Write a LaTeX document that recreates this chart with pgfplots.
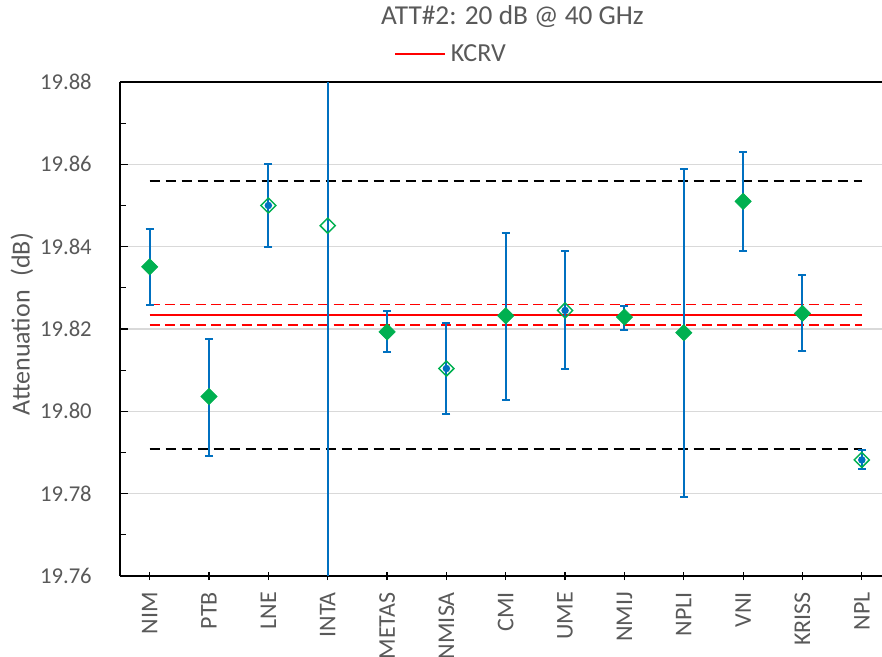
\documentclass[border=0pt]{standalone}
\usepackage{fontspec}
\setmainfont{Carlito}
\usepackage{pgfplots}
\pgfplotsset{compat=1.18}
\usepackage{pgfplotstable}
\definecolor{ebblue}{HTML}{0070C0}
\definecolor{mkgreen}{HTML}{00B050}
\definecolor{txtgray}{HTML}{595959}
\definecolor{gridgray}{HTML}{D9D9D9}
\definecolor{kred}{HTML}{FF0000}

% filled markers
\pgfplotstableread{
x y ep em
0 19.8351 0.0092 0.0092
1 19.8036 0.0140 0.0144
6 19.8232 0.0200 0.0204
8 19.8229 0.0028 0.0031
4 19.8193 0.0051 0.0050
9 19.8191 0.0398 0.0399
10 19.8510 0.0119 0.0120
11 19.8238 0.0092 0.0092
}\filledtab

% open markers
\pgfplotstableread{
x y ep em
2 19.8500 0.0100 0.0101
5 19.8104 0.0110 0.0110
7 19.8245 0.0144 0.0141
12 19.7882 0.0025 0.0022
}\opentab

\pgfplotstableread{
x y
3 19.8451
}\intatab

\begin{document}
\begin{tikzpicture}
\path[use as bounding box] (-90pt,-60.75pt) rectangle (571.5pt,432pt);
\begin{axis}[
  scale only axis, width=571.5pt, height=370.5pt,
  xmin=-0.5, xmax=12.34, ymin=19.76, ymax=19.88,
  axis y line*=left,
  xtick pos=bottom, ytick pos=left,
  axis line style={black, line width=1pt},
  xtick={0,...,12},
  xticklabels={NIM,PTB,LNE,INTA,METAS,NMISA,CMI,UME,NMIJ,NPLI,VNI,KRISS,NPL},
  ytick={19.76,19.78,19.80,19.82,19.84,19.86,19.88},
  minor y tick num=1,
  tick align=inside,
  major tick length=6pt, minor tick length=4.5pt,
  tick style={black, line width=0.9pt},
  xtick style={yshift=-3pt},
  ymajorgrids, grid style={gridgray, line width=0.8pt},
  /pgf/number format/.cd, fixed, fixed zerofill, precision=2, assume math mode=true,
  /pgfplots/.cd,
  xticklabel style={rotate=90, anchor=east, inner sep=0pt, font=\fontsize{18}{20}\selectfont, text=txtgray},
  xticklabel shift=12pt,
  yticklabel style={anchor=east, inner sep=0pt, font=\fontsize{17}{19}\selectfont, text=txtgray},
  yticklabel shift=21pt,
  ylabel={Attenuation\hspace{0.3em} (dB)},
  ylabel style={at={(axis description cs:-0.1286,0.51)}, anchor=center, rotate=0, font=\fontsize{19.5}{21}\selectfont, text=txtgray},
  title={ATT\#2: 20 dB @ 40 GHz},
  title style={at={(axis description cs:0.515,1.1006)}, anchor=base, yshift=0pt, font=\fontsize{20.5}{22}\selectfont, text=txtgray},
  legend style={at={(axis description cs:0.3595,1.0567)}, anchor=west, draw=none, fill=none, inner sep=0pt, font=\fontsize{19.5}{21}\selectfont, text=txtgray, nodes={inner sep=2pt}},
  legend image code/.code={\draw[#1] (0pt,0pt) -- (37.5pt,0pt);},
  legend style={/tikz/every even column/.append style={column sep=0pt}, nodes={inner xsep=3.5pt}},
]
% black dashed limits
\addplot[black, line width=1.1pt, dash pattern=on 7.5pt off 4.5pt, forget plot] coordinates {(0,19.8560) (12,19.8560)};
\addplot[black, line width=1.1pt, dash pattern=on 7.5pt off 4.5pt, forget plot] coordinates {(0,19.7908) (12,19.7908)};
% KCRV and its uncertainty
\addplot[kred, line width=1.5pt] coordinates {(0,19.8235) (12,19.8235)};
\addlegendentry{KCRV}
\addplot[kred, line width=1.1pt, dash pattern=on 7.5pt off 4pt, forget plot] coordinates {(0,19.8259) (12,19.8259)};
\addplot[kred, line width=1.1pt, dash pattern=on 7.5pt off 4pt, forget plot] coordinates {(0,19.8210) (12,19.8210)};
% INTA error bar (beyond the axis)
\addplot[ebblue, line width=1.5pt, forget plot] coordinates {(3,19.76) (3,19.88)};
% error bars
\addplot[ebblue, line width=1.5pt, only marks, mark=none, forget plot,
  error bars/.cd, y dir=both, y explicit,
  error bar style={ebblue, line width=1.5pt},
  error mark options={ebblue, rotate=90, mark size=3pt, line width=1.5pt}]
  table[x=x, y=y, y error plus=ep, y error minus=em] {\filledtab};
\addplot[ebblue, line width=1.5pt, only marks, mark=none, forget plot,
  error bars/.cd, y dir=both, y explicit,
  error bar style={ebblue, line width=1.5pt},
  error mark options={ebblue, rotate=90, mark size=3pt, line width=1.5pt}]
  table[x=x, y=y, y error plus=ep, y error minus=em] {\opentab};
% markers
\addplot[only marks, mark=square*, mark size=4.3pt, mark options={rotate=45, fill=mkgreen, draw=mkgreen, line width=0.5pt}, forget plot]
  table[x=x, y=y] {\filledtab};
\addplot[only marks, mark=square, mark size=4pt, mark options={rotate=45, draw=mkgreen, line width=1.1pt}, forget plot]
  table[x=x, y=y] {\opentab};
\addplot[only marks, mark=square, mark size=4pt, mark options={rotate=45, draw=mkgreen, line width=1.1pt}, forget plot]
  table[x=x, y=y] {\intatab};
\end{axis}
\end{tikzpicture}
\end{document}
